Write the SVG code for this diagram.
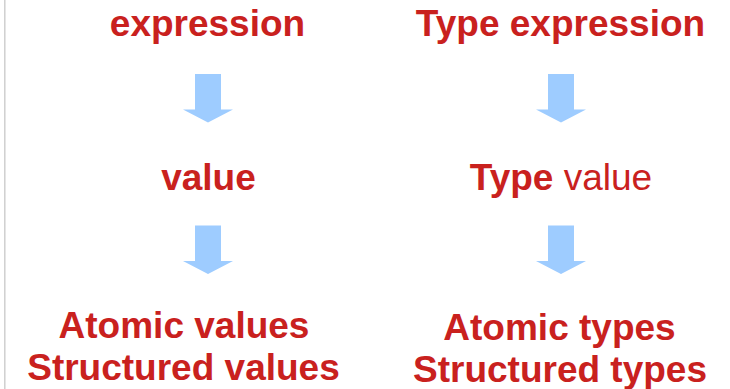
<svg xmlns="http://www.w3.org/2000/svg" width="730" height="389" viewBox="0 0 730 389">
<style>
.t{font-family:"Liberation Sans",Arial,sans-serif;font-size:37px;font-weight:bold;fill:#c9211e;text-anchor:middle}
.r{font-weight:normal}
.arr{fill:#9eccff}
</style>
<defs>
<path id="dn" d="M-13,0 H13 V35.5 H25 L0,48.5 L-25,35.5 H-13 Z"/>
</defs>
<rect width="730" height="389" fill="#ffffff"/>
<line x1="4.8" y1="0" x2="4.8" y2="389" stroke="#cfcfcf" stroke-width="1.5"/>
<g id="expression"><text class="t" x="207.5" y="36">expression</text></g>
<g id="value"><text class="t" x="208.5" y="190">value</text></g>
<g id="values"><text class="t" x="184" y="338">Atomic values</text><text class="t" x="183.5" y="380">Structured values</text></g>
<g id="type-expression"><text class="t" x="560.5" y="36">Type expression</text></g>
<g id="type-value"><text class="t" x="561" y="190">Type<tspan class="r"> value</tspan></text></g>
<g id="types"><text class="t" x="559.5" y="340">Atomic types</text><text class="t" x="560" y="382">Structured types</text></g>
<g id="connectors">
<use href="#dn" class="arr" x="208" y="74"/>
<use href="#dn" class="arr" x="208" y="225.5"/>
<use href="#dn" class="arr" x="561" y="74"/>
<use href="#dn" class="arr" x="561" y="225.5"/>
</g>
</svg>
